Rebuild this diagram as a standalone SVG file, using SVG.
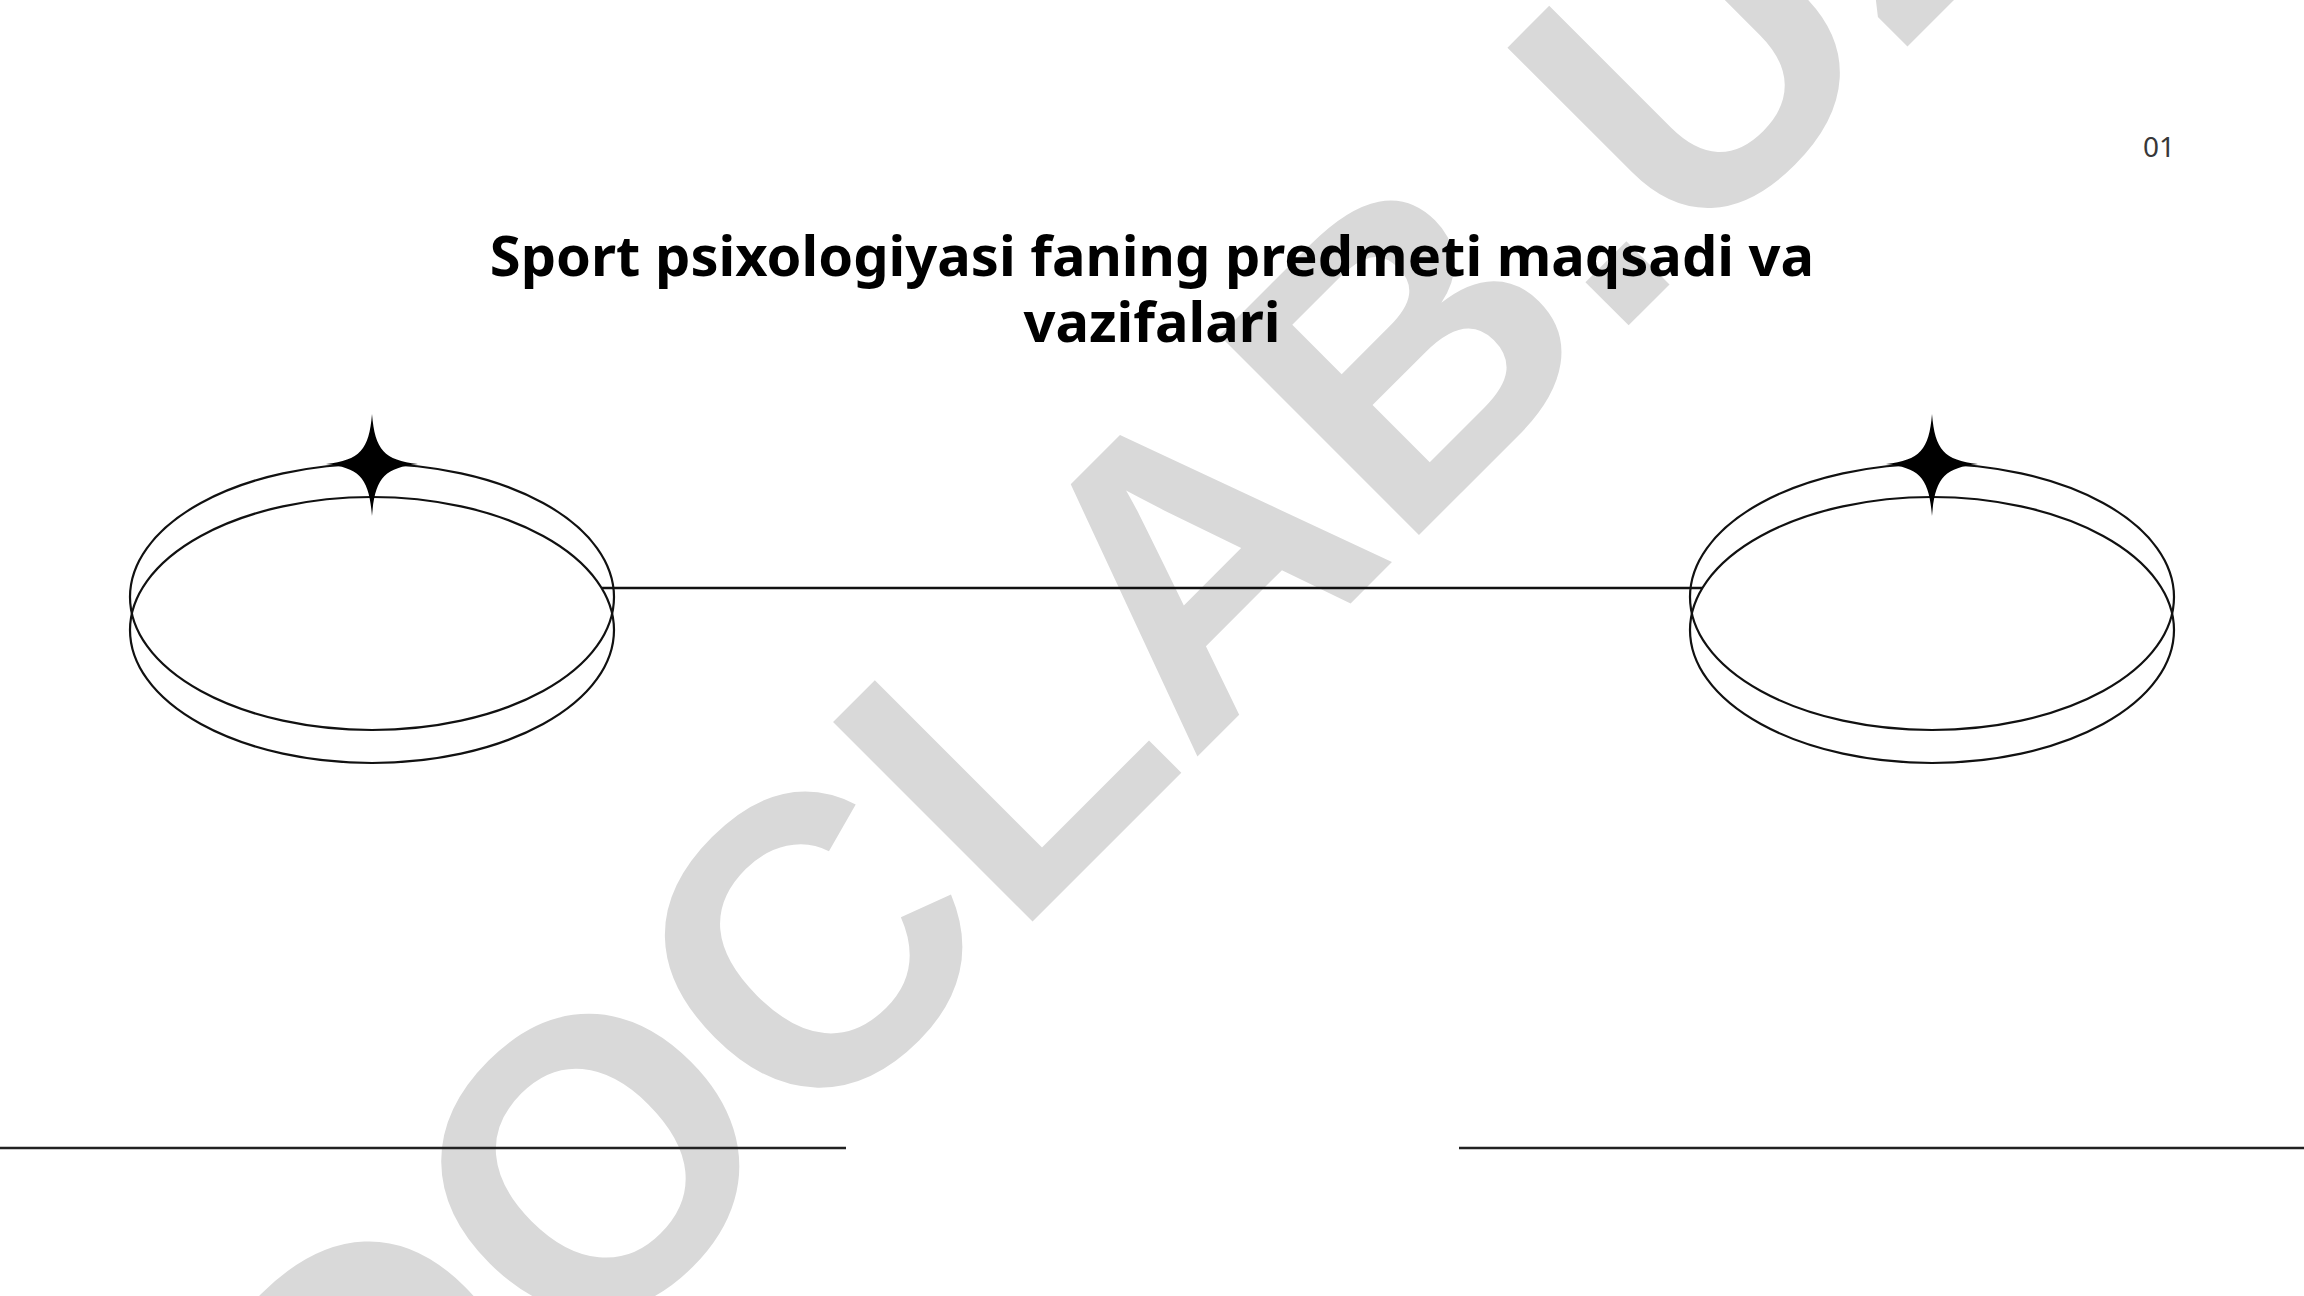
<svg xmlns="http://www.w3.org/2000/svg" width="2304" height="1296" viewBox="0 0 2304 1296">
  <defs>
    <style>
      .ring { fill: none; stroke: #111; stroke-width: 2.2; }
      .conn { stroke: #111; stroke-width: 2.4; fill: none; }
      .rule { stroke: #222; stroke-width: 2.6; }
      .title { font-family: "Noto Sans", "Open Sans", sans-serif; font-weight: 700; font-size: 56px; fill: #000; text-anchor: middle; }
      .pnum { font-family: "Noto Sans", "Open Sans", sans-serif; font-size: 28px; fill: #383838; text-anchor: middle; }
      .wm { font-family: "Liberation Sans", Arial, sans-serif; font-weight: 700; font-size: 410px; fill: #d9d9d9; }
    </style>
    <path id="star" d="M0,-50 C3,-14 12,-4 46,0 C12,4 3,14 0,52 C-3,14 -12,4 -46,0 C-12,-4 -3,-14 0,-50 Z" fill="#000"/>
  </defs>
  <rect width="2304" height="1296" fill="#fff"/>

  <g id="watermark" transform="translate(977,977) rotate(-45)">
    <text class="wm" x="-860" y="0">DOCLAB.UZ</text>
  </g>

  <g id="title">
    <text class="title" x="1152" y="276">Sport psixologiyasi faning predmeti maqsadi va</text>
    <text class="title" x="1152" y="342">vazifalari</text>
  </g>

  <g id="page-number">
    <text class="pnum" x="2159" y="157">01</text>
  </g>

  <g id="connectors">
    <line class="conn" x1="602" y1="588" x2="1702" y2="588"/>
  </g>

  <g id="node-left">
    <ellipse class="ring" cx="372" cy="597" rx="242" ry="133"/>
    <ellipse class="ring" cx="372" cy="630" rx="242" ry="133"/>
    <use href="#star" x="372" y="464"/>
  </g>

  <g id="node-right">
    <ellipse class="ring" cx="1932" cy="597" rx="242" ry="133"/>
    <ellipse class="ring" cx="1932" cy="630" rx="242" ry="133"/>
    <use href="#star" x="1932" y="464"/>
  </g>

  <g id="rules">
    <line class="rule" x1="0" y1="1148" x2="846" y2="1148"/>
    <line class="rule" x1="1459" y1="1148" x2="2304" y2="1148"/>
  </g>
</svg>
